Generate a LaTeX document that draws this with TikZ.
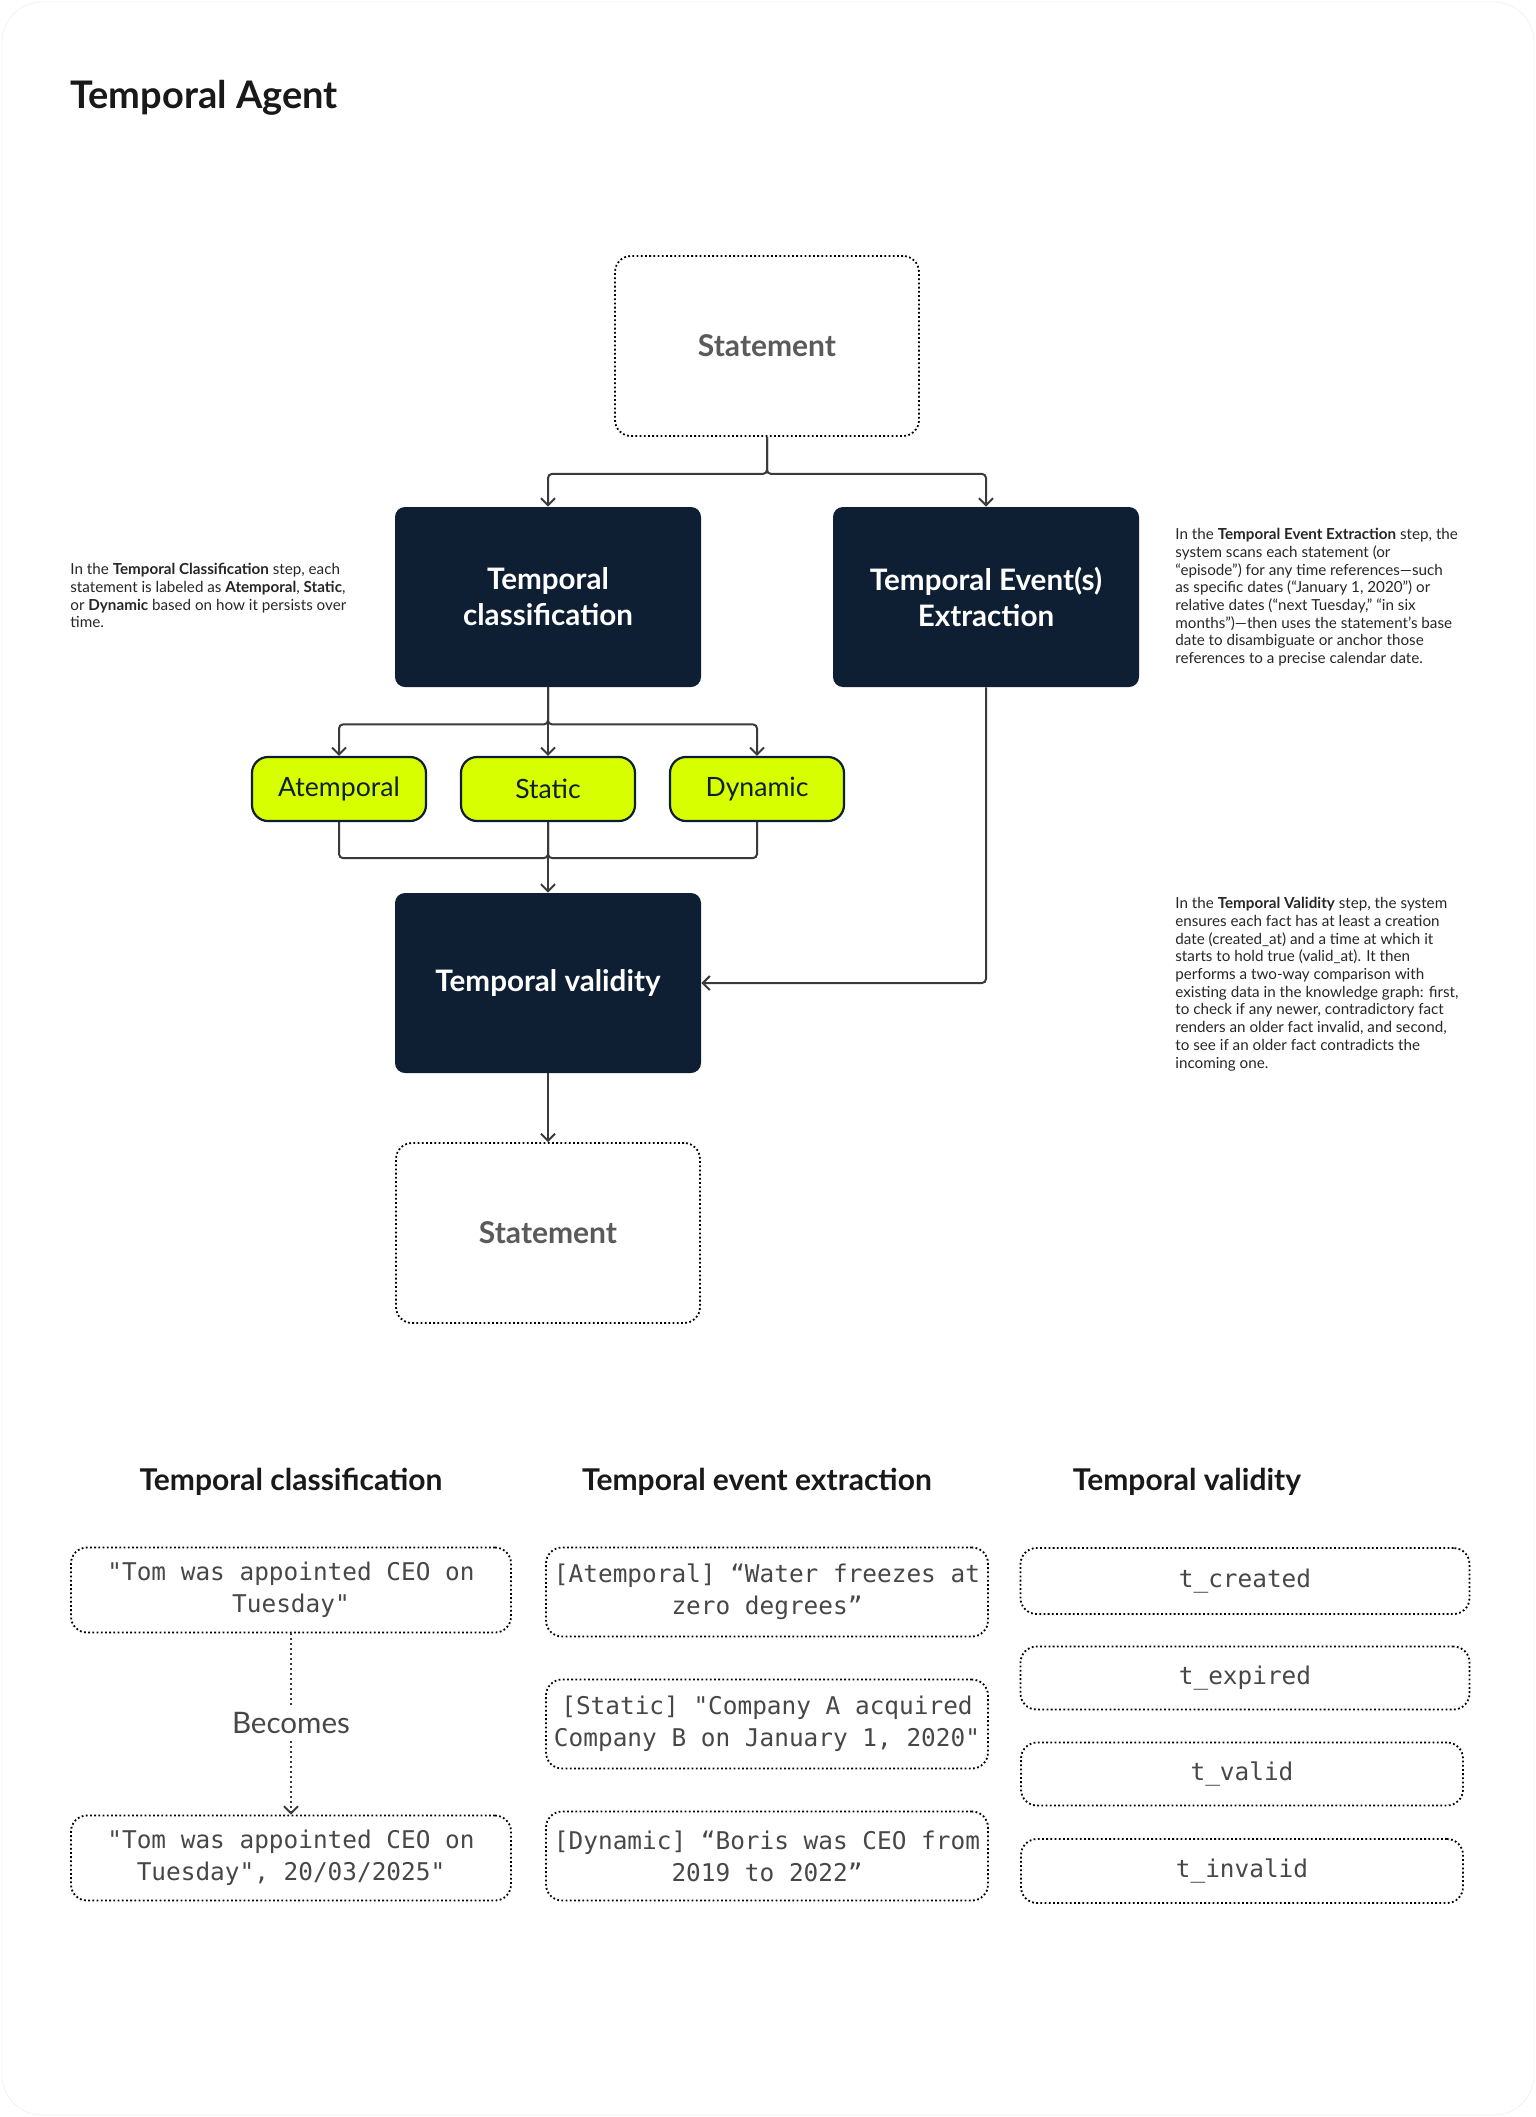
\documentclass[tikz,border=0pt]{standalone}
\usepackage{fontspec}
\setmainfont{Lato}
\setmonofont{DejaVu Sans Mono}
\usetikzlibrary{arrows.meta}

\definecolor{navy}{HTML}{0E1F34}
\definecolor{lime}{HTML}{D7FF00}
\definecolor{linegray}{HTML}{3A3A3A}
\definecolor{labelgray}{HTML}{5A5A5A}
\definecolor{monogray}{HTML}{474747}

\tikzset{
    darkbox/.style = {fill = navy, rounded corners = 5pt, minimum width = 153pt, minimum height = 90pt,
        text = white, align = center, font = \bfseries\fontsize{14.8}{18}\selectfont},
    dotbox/.style = {draw = black, line width = 0.9pt, dash pattern = on 0.9pt off 1.2pt, rounded corners = 8pt,
        minimum width = 152pt, minimum height = 90pt, text = labelgray, font = \bfseries\fontsize{15}{18}\selectfont},
    limebox/.style = {fill = lime, draw = navy, line width = 1.1pt, rounded corners = 8pt,
        minimum width = 87pt, minimum height = 32pt, text = navy, font = \fontsize{13.3}{16}\selectfont},
    note/.style = {anchor = north west, align = left, inner sep = 0pt, text = black!85,
        font = \fontsize{7.6}{8.85}\selectfont},
    head/.style = {font = \bfseries\fontsize{15}{18}\selectfont, text = black!90},
    monobox/.style = {draw = black, line width = 0.9pt, dash pattern = on 0.9pt off 1.2pt, rounded corners = 8pt,
        align = center, text = monogray, font = \ttfamily\fontsize{12.2}{16}\selectfont},
    link/.style = {draw = linegray, line width = 1pt, rounded corners = 2pt, -{Straight Barb[length = 3.5pt, width = 7pt]}},
    plain/.style = {draw = linegray, line width = 1pt, rounded corners = 2pt},
}

\begin{document}
\begin{tikzpicture}[x = 0.5pt, y = -0.5pt]
    \useasboundingbox (0,0) rectangle (1536,2117);
    \draw[black!5, rounded corners = 20pt] (2,2) rectangle (1534,2115);

    \node[anchor = base west, inner sep = 0pt, font = \bfseries\fontsize{19}{23}\selectfont, text = black!90] (title) at (70,108) {Temporal Agent};

    \node[dotbox] (stmtTop) at (767,346) {Statement};
    \node[darkbox] (tclass) at (548,597) {Temporal\\classification};
    \node[darkbox] (textr) at (986,597) {Temporal Event(s)\\Extraction};

    \node[limebox] (atemp) at (339,789) {Atemporal};
    \node[limebox] (static) at (548,789) {Static};
    \node[limebox] (dyn) at (757,789) {Dynamic};

    \node[darkbox] (tvalid) at (548,983) {Temporal validity};
    \node[dotbox] (stmtBot) at (548,1233) {Statement};

    \draw[link] (stmtTop.south) -- ++(0,37) -| (tclass.north);
    \draw[link] (stmtTop.south) -- ++(0,37) -| (textr.north);

    \draw[link] (tclass.south) -- ++(0,37) -| (atemp.north);
    \draw[link] (tclass.south) -- (static.north);
    \draw[link] (tclass.south) -- ++(0,37) -| (dyn.north);

    \draw[plain] (atemp.south) -- ++(0,36) -| (static.south);
    \draw[plain] (dyn.south) -- ++(0,36) -| (static.south);
    \draw[link] (static.south) -- (tvalid.north);

    \draw[link] (textr.south) |- (tvalid.east);
    \draw[link] (tvalid.south) -- (stmtBot.north);

    \node[note] (noteCls) at (70,563) {In the \textbf{Temporal Classification} step, each\\
        statement is labeled as \textbf{Atemporal}, \textbf{Static},\\
        or \textbf{Dynamic} based on how it persists over\\
        time.};
    \node[note] (noteExt) at (1175,528) {In the \textbf{Temporal Event Extraction} step, the\\
        system scans each statement (or\\
        “episode”) for any time references—such\\
        as specific dates (“January 1, 2020”) or\\
        relative dates (“next Tuesday,” “in six\\
        months”)—then uses the statement’s base\\
        date to disambiguate or anchor those\\
        references to a precise calendar date.};
    \node[note] (noteVal) at (1175,897) {In the \textbf{Temporal Validity} step, the system\\
        ensures each fact has at least a creation\\
        date (created\_at) and a time at which it\\
        starts to hold true (valid\_at). It then\\
        performs a two-way comparison with\\
        existing data in the knowledge graph: first,\\
        to check if any newer, contradictory fact\\
        renders an older fact invalid, and second,\\
        to see if an older fact contradicts the\\
        incoming one.};

    % examples
    \node[head] (hCls) at (291,1482) {Temporal classification};
    \node[head] (hExt) at (757,1482) {Temporal event extraction};
    \node[head] (hVal) at (1187,1482) {Temporal validity};

    \node[monobox, minimum width = 220pt, minimum height = 42.5pt] (exCls1) at (291,1590) {"Tom was appointed CEO on\\Tuesday"};
    \node[text = monogray, font = \fontsize{14.8}{18}\selectfont] (becomes) at (291,1723) {Becomes};
    \node[monobox, minimum width = 220pt, minimum height = 42.5pt] (exCls2) at (291,1858) {"Tom was appointed CEO on\\Tuesday", 20/03/2025"};
    \draw[draw = linegray, line width = 1pt, dash pattern = on 0.9pt off 1.6pt] (exCls1.south) -- (becomes.north);
    \draw[draw = linegray, line width = 1pt, dash pattern = on 0.9pt off 1.6pt, -{Straight Barb[length = 3.5pt, width = 7pt]}] (becomes.south) -- (exCls2.north);

    \node[monobox, minimum width = 221pt, minimum height = 44.5pt] (exExt1) at (767,1592) {[Atemporal] “Water freezes at\\zero degrees”};
    \node[monobox, minimum width = 221pt, minimum height = 44.5pt] (exExt2) at (767,1724) {[Static] "Company A acquired\\Company B on January 1, 2020"};
    \node[monobox, minimum width = 221pt, minimum height = 44.5pt] (exExt3) at (767,1856) {[Dynamic] “Boris was CEO from\\2019 to 2022”};

    \node[monobox, minimum width = 224.5pt, minimum height = 33pt] (tCreated) at (1245,1581) {t\_created};
    \node[monobox, minimum width = 224.5pt, minimum height = 31.5pt] (tExpired) at (1245,1678) {t\_expired};
    \node[monobox, minimum width = 221pt, minimum height = 31.5pt] (tValid) at (1242,1774) {t\_valid};
    \node[monobox, minimum width = 221pt, minimum height = 32pt] (tInvalid) at (1242,1871) {t\_invalid};

\end{tikzpicture}
\end{document}
